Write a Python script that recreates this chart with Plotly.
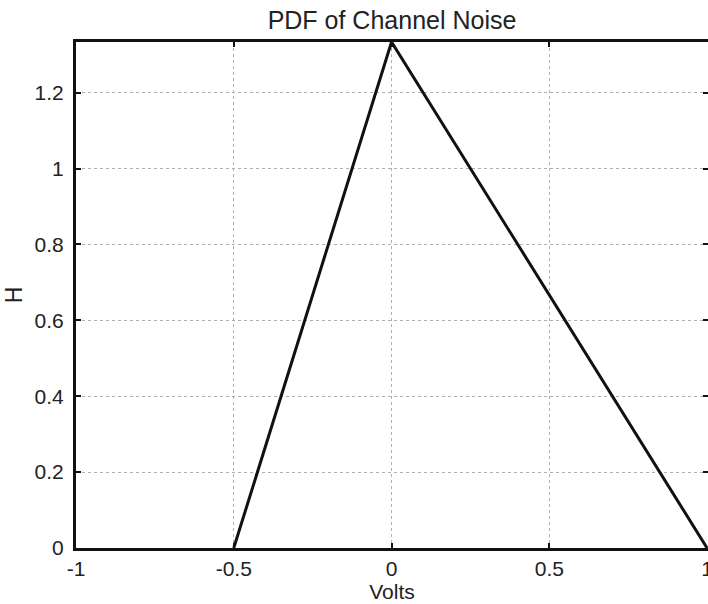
import plotly.graph_objects as go

volts = [-0.5, 0.0, 1.0]
pdf_h = [0.0, 4/3, 0.0]

x_ticks = [-1, -0.5, 0, 0.5, 1]
x_labels = ["-1", "-0.5", "0", "0.5", "1"]
y_ticks = [0, 0.2, 0.4, 0.6, 0.8, 1.0, 1.2]
y_labels = ["0", "0.2", "0.4", "0.6", "0.8", "1", "1.2"]

fig = go.Figure()
fig.add_trace(go.Scatter(x=volts, y=pdf_h, mode="lines",
                         line=dict(color="#111111", width=3), showlegend=False,
                         cliponaxis=False))

fam = "Liberation Sans, Arial, sans-serif"
tick_font = dict(family=fam, size=21, color="#222222")
fig.update_layout(
    width=708, height=604,
    margin=dict(l=76, r=0, t=42, b=56, autoexpand=False),
    paper_bgcolor="white", plot_bgcolor="white",
    font=dict(family=fam, size=21, color="#222222"),
    title=dict(text="PDF of Channel Noise", x=0.5, xref="paper", xanchor="center",
               y=1 - 20/604, yref="container", yanchor="middle",
               font=dict(family=fam, size=25, color="#222222")),
)
fig.update_xaxes(range=[-1, 1.003], tickvals=x_ticks, ticktext=x_labels,
                 tickfont=tick_font, ticklabeloverflow="allow",
                 showgrid=True, gridcolor="#b0b0b0", griddash="dot", gridwidth=1,
                 showline=True, linecolor="#111111", linewidth=3, mirror="ticks",
                 ticks="inside", ticklen=5, tickwidth=2, tickcolor="#111111",
                 zeroline=False, ticklabelstandoff=0, automargin=False,
                 title=dict(text="Volts", standoff=3,
                            font=dict(family=fam, size=21, color="#222222")))
fig.update_yaxes(range=[0, 4/3], tickvals=y_ticks, ticktext=y_labels,
                 tickfont=tick_font, ticklabeloverflow="allow",
                 showgrid=True, gridcolor="#b0b0b0", griddash="dot", gridwidth=1,
                 showline=True, linecolor="#111111", linewidth=3, mirror="ticks",
                 ticks="inside", ticklen=5, tickwidth=2, tickcolor="#111111",
                 zeroline=False, ticklabelstandoff=5, automargin=False,
                 title=dict(text="H", standoff=6,
                            font=dict(family=fam, size=23, color="#222222")))
fig.write_html("out.html")
